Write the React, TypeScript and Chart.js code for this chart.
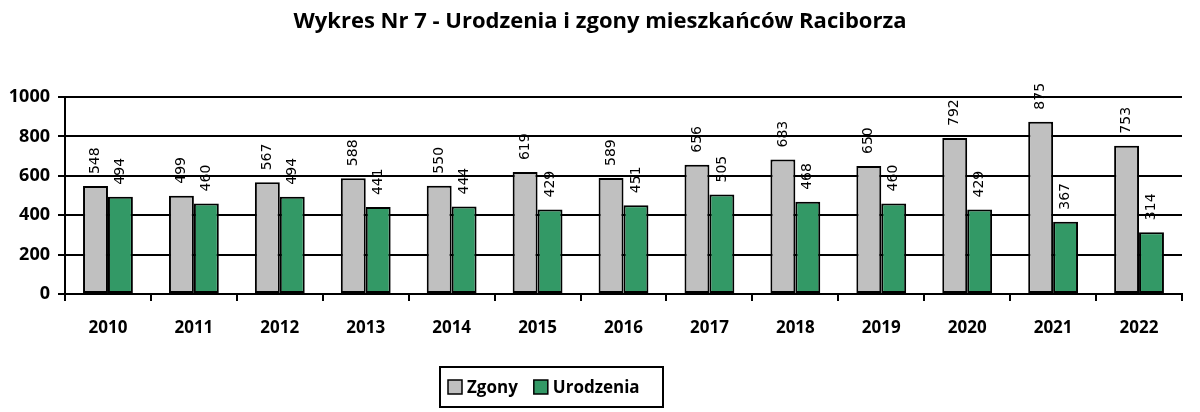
import React, { useEffect, useRef } from "react";
import { Chart, registerables } from "chart.js";

Chart.register(...registerables);

const TITLE = "Wykres Nr 7 - Urodzenia i zgony mieszkańców Raciborza";
const years = ["2010", "2011", "2012", "2013", "2014", "2015", "2016", "2017", "2018", "2019", "2020", "2021", "2022"];
const zgony = [548, 499, 567, 588, 550, 619, 589, 656, 683, 650, 792, 875, 753];
const urodzenia = [494, 460, 494, 441, 444, 429, 451, 505, 468, 460, 429, 367, 314];
const seriesNames = ["Zgony", "Urodzenia"];
const colors = ["#C0C0C0", "#339966"];

const FONT = "'Open Sans', Lato, sans-serif";

const labelPlugin = {
  id: "barLabels",
  afterDatasetsDraw(chart: any) {
    const ctx = chart.ctx;
    ctx.save();
    ctx.font = "14px 'DejaVu Sans', sans-serif";
    ctx.fillStyle = "#000";
    ctx.textAlign = "left";
    ctx.textBaseline = "middle";
    chart.data.datasets.forEach((ds: any, di: number) => {
      const meta = chart.getDatasetMeta(di);
      meta.data.forEach((el: any, i: number) => {
        ctx.save();
        ctx.translate(el.x, el.y - 12);
        ctx.rotate(-Math.PI / 2);
        ctx.fillText(String(ds.data[i]), 0, 0);
        ctx.restore();
      });
    });
    ctx.restore();
  },
};

const titleLegendPlugin = {
  id: "titleLegend",
  afterDraw(chart: any) {
    const ctx = chart.ctx;
    ctx.save();
    // title
    ctx.fillStyle = "#000";
    ctx.font = `bold 22px ${FONT}`;
    ctx.textAlign = "center";
    ctx.textBaseline = "middle";
    ctx.fillText(TITLE, 600, 22);
    // legend
    const bx = 440, by = 367, bw = 223, bh = 40;
    ctx.lineWidth = 2;
    ctx.strokeStyle = "#000";
    ctx.strokeRect(bx, by, bw, bh);
    ctx.font = `bold 17px ${FONT}`;
    ctx.textAlign = "left";
    const cy = by + bh / 2;
    let x = bx + 8;
    seriesNames.forEach((name, i) => {
      ctx.fillStyle = colors[i];
      ctx.fillRect(x, cy - 7, 14, 14);
      ctx.lineWidth = 1.5;
      ctx.strokeRect(x, cy - 7, 14, 14);
      ctx.fillStyle = "#000";
      ctx.fillText(name, x + 19, cy + 1);
      x += 19 + ctx.measureText(name).width + 16;
    });
    ctx.restore();
  },
};

export default function App() {
  const ref = useRef<HTMLCanvasElement>(null);
  useEffect(() => {
    if (!ref.current) return;
    const chart = new Chart(ref.current, {
      type: "bar",
      data: {
        labels: years,
        datasets: [
          { label: seriesNames[0], data: zgony, backgroundColor: colors[0], borderColor: "#000", borderWidth: 2, borderSkipped: false },
          { label: seriesNames[1], data: urodzenia, backgroundColor: colors[1], borderColor: "#000", borderWidth: 2, borderSkipped: false },
        ],
      },
      options: {
        animation: false,
        responsive: false,
        layout: { padding: { top: 97, left: 0, right: 18, bottom: 68 } },
        plugins: { legend: { display: false }, title: { display: false }, tooltip: { enabled: false } },
        datasets: { bar: { categoryPercentage: 0.58, barPercentage: 1.0 } },
        scales: {
          x: {
            afterFit: (s: any) => { s.height = 50; },
            grid: { offset: true, drawOnChartArea: false, drawTicks: true, tickLength: 7, color: "#000", lineWidth: 2 },
            border: { display: true, color: "#000", width: 2 },
            ticks: { color: "#000", font: { family: FONT, size: 17, weight: "bold" }, padding: 17, maxRotation: 0 },
          },
          y: {
            min: 0,
            max: 1000,
            afterFit: (s: any) => { s.width = 65; },
            grid: { color: "#000", lineWidth: 2, drawTicks: true, tickLength: 7 },
            border: { display: true, color: "#000", width: 2 },
            ticks: {
              stepSize: 200,
              color: "#000",
              font: { family: FONT, size: 18, weight: "bold" },
              padding: 8,
              callback: (v: any) => String(v),
            },
          },
        },
      },
      plugins: [labelPlugin, titleLegendPlugin],
    });
    return () => chart.destroy();
  }, []);
  return (
    <div style={{ position: "fixed", left: 0, top: 0, width: 1200, height: 412, background: "#fff" }}>
      <canvas ref={ref} width={1200} height={412} style={{ width: 1200, height: 412 }} />
    </div>
  );
}
